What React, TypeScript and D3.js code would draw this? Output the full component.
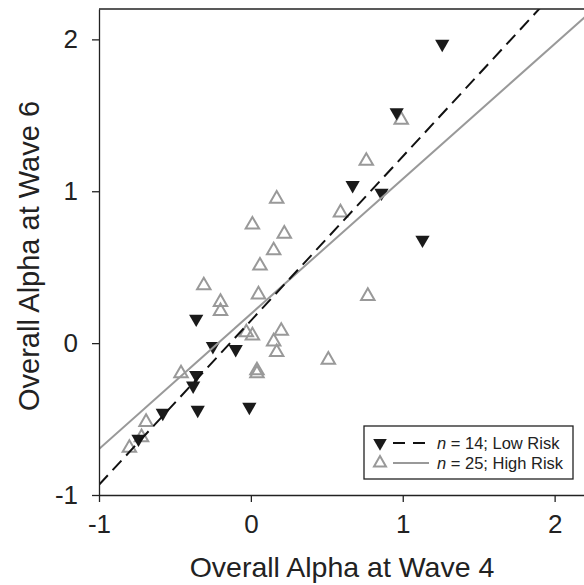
import React, { useEffect, useRef } from "react";
import * as d3 from "d3";

// Low risk group (filled, pointing down)
const lowX = [1.26, 0.96, 0.67, 0.86, 1.13, -0.36, -0.25, -0.1, -0.36, -0.38, -0.58, -0.35, -0.01, -0.74];
const lowY = [1.97, 1.52, 1.04, 0.99, 0.68, 0.16, -0.02, -0.04, -0.21, -0.28, -0.46, -0.44, -0.42, -0.63];

// High risk group (open, pointing up)
const highX = [0.76, 0.17, 0.01, 0.22, 0.15, 0.06, 0.59, -0.31, -0.2, -0.2, 0.05, 0.77, -0.03, 0.01, 0.2, 0.15, 0.17, 0.51, 0.04, 0.04, 0.99, -0.46, -0.69, -0.72, -0.8];
const highY = [1.2, 0.95, 0.78, 0.72, 0.61, 0.51, 0.86, 0.38, 0.27, 0.21, 0.32, 0.31, 0.07, 0.05, 0.08, 0.01, -0.06, -0.11, -0.18, -0.2, 1.47, -0.2, -0.52, -0.62, -0.69];

// regression fits: intercept, slope
const lowFit = [0.148, 1.081];
const highFit = [0.192, 0.889];

const ticks = [-1, 0, 1, 2];
const legendLabels = ["14; Low Risk", "25; High Risk"];

export default function App() {
    const ref = useRef<SVGSVGElement>(null);

    useEffect(() => {
        const width = 584, height = 585;
        const margin = { top: 9, right: -1, bottom: 90, left: 99 };
        const font = "'Liberation Sans', Arial, sans-serif";

        const svg = d3.select(ref.current);
        svg.html("");

        const x = d3.scaleLinear().domain([-1, 2.2]).range([margin.left, width - margin.right]);
        const y = d3.scaleLinear().domain([-1, 2.2]).range([height - margin.bottom, margin.top]);

        svg.append("defs").append("clipPath").attr("id", "plotclip")
            .append("rect")
            .attr("x", x(-1)).attr("y", y(2.2))
            .attr("width", x(2.2) - x(-1)).attr("height", y(-1) - y(2.2));

        const tri = d3.symbol().type(d3.symbolTriangle);

        // points
        svg.append("g")
            .selectAll("path")
            .data(highX.map((v, i) => [v, highY[i]]))
            .enter().append("path")
            .attr("d", tri.size(78)())
            .attr("transform", d => `translate(${x(d[0])},${y(d[1])})`)
            .attr("fill", "none")
            .attr("stroke", "#999")
            .attr("stroke-width", 2);

        svg.append("g")
            .selectAll("path")
            .data(lowX.map((v, i) => [v, lowY[i]]))
            .enter().append("path")
            .attr("d", tri.size(88)())
            .attr("transform", d => `translate(${x(d[0])},${y(d[1])}) rotate(180)`)
            .attr("fill", "#1a1a1a");

        // fitted lines
        const fitLine = (fit: number[]) => [-1, 2.2].map(v => [x(v), y(fit[0] + fit[1] * v)] as [number, number]);
        const lines = svg.append("g").attr("clip-path", "url(#plotclip)");
        lines.append("path")
            .attr("d", d3.line()(fitLine(highFit)))
            .attr("stroke", "#999").attr("stroke-width", 2).attr("fill", "none");
        lines.append("path")
            .attr("d", d3.line()(fitLine(lowFit)))
            .attr("stroke", "#111").attr("stroke-width", 2).attr("fill", "none")
            .attr("stroke-dasharray", "13,7");

        // axes
        const fmt = (d: d3.NumberValue) => String(d);
        const xAxis = svg.append("g")
            .attr("transform", `translate(0,${y(-1)})`)
            .call(d3.axisBottom(x).tickValues(ticks).tickFormat(fmt).tickSize(7).tickSizeOuter(0).tickPadding(13));
        const yAxis = svg.append("g")
            .attr("transform", `translate(${x(-1)},0)`)
            .call(d3.axisLeft(y).tickValues(ticks).tickFormat(fmt).tickSize(7).tickSizeOuter(0).tickPadding(14));
        [xAxis, yAxis].forEach(g => {
            g.selectAll("path, line").attr("stroke", "#222").attr("stroke-width", 1.3);
            g.selectAll("text").style("font-family", font).style("font-size", "26px").attr("fill", "#222");
        });

        svg.append("line")
            .attr("x1", x(-1)).attr("x2", width)
            .attr("y1", y(2.2)).attr("y2", y(2.2))
            .attr("stroke", "#222").attr("stroke-width", 1.3);

        // axis titles
        svg.append("text")
            .attr("x", (x(-1) + x(2.2)) / 2).attr("y", 577)
            .attr("text-anchor", "middle")
            .style("font-family", font).style("font-size", "28.5px").attr("fill", "#222")
            .text("Overall Alpha at Wave 4");
        svg.append("text")
            .attr("transform", `translate(39,${(y(-1) + y(2.2)) / 2 + 4}) rotate(-90)`)
            .attr("text-anchor", "middle")
            .style("font-family", font).style("font-size", "29px").attr("fill", "#222")
            .text("Overall Alpha at Wave 6");

        // legend
        const lg = svg.append("g");
        lg.append("rect")
            .attr("x", 364).attr("y", 426).attr("width", 209).attr("height", 53)
            .attr("fill", "white").attr("stroke", "#222").attr("stroke-width", 1.3);
        const rows = [443, 463];
        lg.append("path").attr("d", tri.size(80)())
            .attr("transform", `translate(380,${rows[0]}) rotate(180)`).attr("fill", "#1a1a1a");
        lg.append("path").attr("d", tri.size(62)())
            .attr("transform", `translate(380,${rows[1]})`)
            .attr("fill", "none").attr("stroke", "#999").attr("stroke-width", 2);
        lg.append("line").attr("x1", 393).attr("x2", 429).attr("y1", rows[0]).attr("y2", rows[0])
            .attr("stroke", "#111").attr("stroke-width", 2).attr("stroke-dasharray", "12,8");
        lg.append("line").attr("x1", 393).attr("x2", 429).attr("y1", rows[1]).attr("y2", rows[1])
            .attr("stroke", "#999").attr("stroke-width", 2);
        legendLabels.forEach((lab, i) => {
            const t = lg.append("text")
                .attr("x", 437).attr("y", rows[i] + 5.5)
                .style("font-family", font).style("font-size", "16.5px").attr("fill", "#222");
            t.append("tspan").style("font-style", "italic").text("n");
            t.append("tspan").text(" = " + lab);
        });
    }, []);

    return (
        <svg ref={ref} width={584} height={585} style={{ position: "absolute", left: 0, top: 0 }} />
    );
}
